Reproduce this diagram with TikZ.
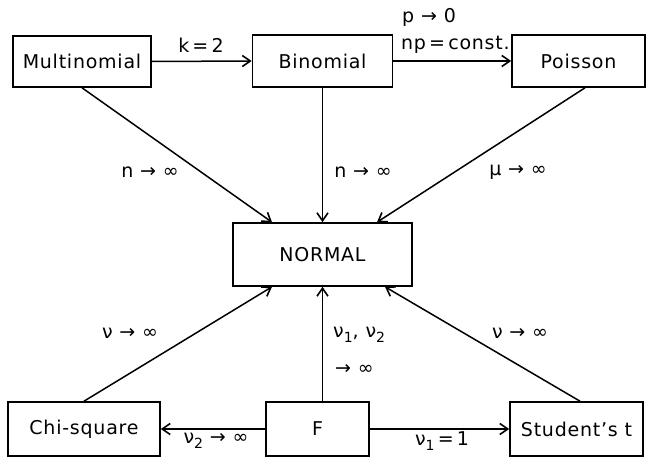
\documentclass[tikz,border=0pt]{standalone}
\usepackage{fontspec}
\setmainfont{DejaVu Sans}[LetterSpace=4]
\usetikzlibrary{arrows.meta}
% subscript set low and fairly large, as in the drawing
\newcommand\lowsub[1]{\raisebox{-0.5ex}{\fontsize{14}{14}\selectfont #1}}
\begin{document}
\begin{tikzpicture}[x=1pt,y=-1pt,
  box/.style={draw,line width=1.6pt,inner sep=0pt,font=\fontsize{19}{22}\selectfont},
  lbl/.style={inner sep=0pt,font=\fontsize{19}{22}\selectfont},
  conn/.style={line width=1.5pt,-{Straight Barb[length=8pt,width=11pt,line width=1.6pt]}}]
\useasboundingbox (0,0) rectangle (650,457);

% distributions
\node[box,minimum width=138pt,minimum height=51pt] (multi)   at (82,61.5)   {Multinomial};
\node[box,minimum width=140pt,minimum height=52pt] (binom)   at (322.5,61)  {Binomial};
\node[box,minimum width=133pt,minimum height=52pt] (poisson) at (578.5,61)  {Poisson};
\node[box,minimum width=179pt,minimum height=63pt] (normal)  at (322.5,254.5) {NORMAL};
\node[box,minimum width=152pt,minimum height=54pt] (chi)     at (84,429)    {Chi-square};
\node[box,minimum width=103pt,minimum height=54pt] (F)       at (317.5,429) {F};
\node[box,minimum width=133pt,minimum height=54pt] (student) at (576.5,429) {Student's t};

% limiting relations
\draw[conn] (multi.east) -- (binom.west);
\draw[conn] (binom.east) -- (poisson.west);
\draw[conn] (multi.south) -- ([xshift=-50.5pt]normal.north);
\draw[conn] (binom.south) -- (normal.north);
\draw[conn] ([xshift=6.5pt]poisson.south) -- ([xshift=54.5pt]normal.north);
\draw[conn] (chi.north) -- ([xshift=-50.5pt]normal.south);
\draw[conn] ([xshift=5pt]F.north) -- (normal.south);
\draw[conn] ([xshift=3.5pt]student.north) -- ([xshift=62.5pt]normal.south);
\draw[conn] (F.west) -- (chi.east);
\draw[conn] (F.east) -- (student.west);

% labels
\node[lbl] (lk)  at (201,45) {k\,=\,2};
\node[lbl,anchor=west] (lp)  at (402,17) {p → 0};
\node[lbl,anchor=west] (lnp) at (401,45) {np\,=\,const.};
\node[lbl] (ln1) at (150,172) {n → ∞};
\node[lbl] (ln2) at (363,172) {n → ∞};
\node[lbl] (lmu) at (518,172) {μ → ∞};
\node[lbl] (lv1) at (130,333) {ν → ∞};
\node[lbl] (lv2) at (520,333) {ν → ∞};
\node[lbl,anchor=west] (lvv) at (333,335) {ν\lowsub{1}, ν\lowsub{2}};
\node[lbl,anchor=west] (lto) at (335,369) {→ ∞};
\node[lbl] (lv2i) at (216,441) {ν\lowsub{2} → ∞};
\node[lbl] (lv1e) at (442,441) {ν\lowsub{1}\,=\,1};
\end{tikzpicture}
\end{document}
